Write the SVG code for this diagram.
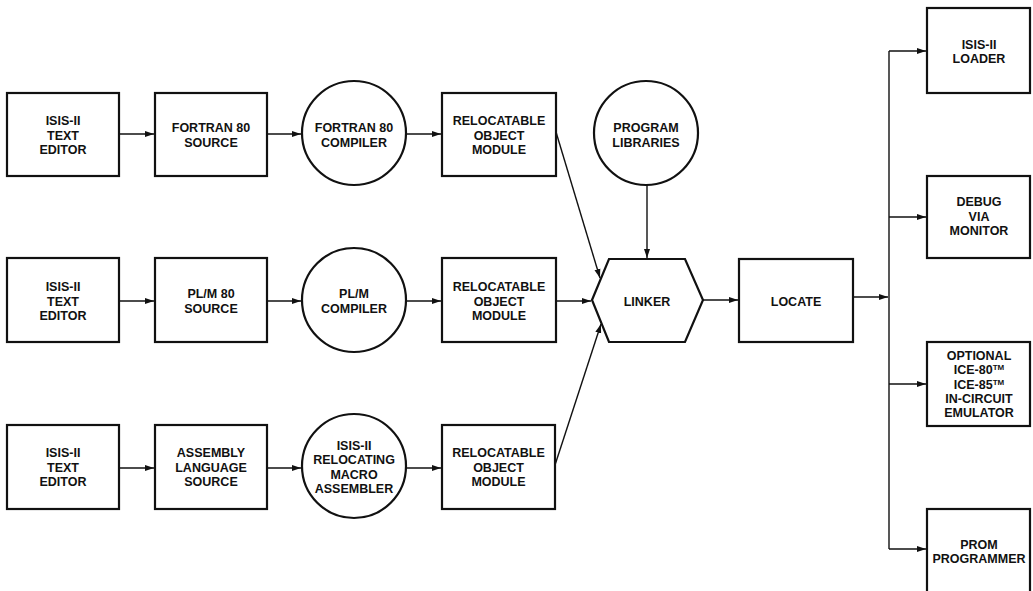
<svg xmlns="http://www.w3.org/2000/svg" width="1033" height="591" viewBox="0 0 1033 591">
<defs>
<marker id="ah" markerUnits="userSpaceOnUse" markerWidth="10" markerHeight="8" refX="9" refY="4" orient="auto">
<path d="M0,1 L9,4 L0,7 Z" fill="#111"/>
</marker>
<style>
.box{fill:#fff;stroke:#111;stroke-width:2.2}
.t{font-family:"Liberation Sans",Arial,sans-serif;font-weight:bold;font-size:12.5px;fill:#111;text-anchor:middle}
.c{fill:none;stroke:#111;stroke-width:1.4;marker-end:url(#ah)}
.bus{fill:none;stroke:#111;stroke-width:1.4}
</style>
</defs>
<rect width="1033" height="591" fill="#fff"/>

<g id="connectors">
<line class="c" x1="119" y1="134" x2="154" y2="134"/>
<line class="c" x1="267" y1="134" x2="301" y2="134"/>
<line class="c" x1="406" y1="134" x2="441" y2="134"/>
<line class="c" x1="556" y1="132" x2="600" y2="278"/>
<line class="c" x1="119" y1="301" x2="154" y2="301"/>
<line class="c" x1="267" y1="301" x2="301" y2="301"/>
<line class="c" x1="406" y1="301" x2="441" y2="301"/>
<line class="c" x1="556" y1="301" x2="591" y2="301"/>
<line class="c" x1="119" y1="468" x2="154" y2="468"/>
<line class="c" x1="267" y1="468" x2="301" y2="468"/>
<line class="c" x1="406" y1="468" x2="441" y2="468"/>
<line class="c" x1="555" y1="465" x2="601" y2="324"/>
<line class="c" x1="647" y1="185" x2="647" y2="258"/>
<line class="c" x1="703" y1="300" x2="738" y2="300"/>
<line class="c" x1="853" y1="297" x2="888" y2="297"/>
<line class="bus" x1="889" y1="51" x2="889" y2="549"/>
<line class="c" x1="889" y1="51" x2="926" y2="51"/>
<line class="c" x1="889" y1="217" x2="926" y2="217"/>
<line class="c" x1="889" y1="384" x2="926" y2="384"/>
<line class="c" x1="889" y1="549" x2="926" y2="549"/>
</g>

<g id="editor1"><rect class="box" x="7" y="93" width="112" height="83"/>
<text class="t"><tspan x="63" y="125.3">ISIS-II</tspan><tspan x="63" y="139.5">TEXT</tspan><tspan x="63" y="153.7">EDITOR</tspan></text></g>
<g id="fortran-source"><rect class="box" x="155" y="93" width="112" height="83"/>
<text class="t"><tspan x="211" y="132.4">FORTRAN 80</tspan><tspan x="211" y="146.6">SOURCE</tspan></text></g>
<g id="fortran-compiler"><circle class="box" cx="354" cy="133" r="52"/>
<text class="t"><tspan x="354" y="132.4">FORTRAN 80</tspan><tspan x="354" y="146.6">COMPILER</tspan></text></g>
<g id="rom1"><rect class="box" x="442" y="93" width="114" height="83"/>
<text class="t"><tspan x="499" y="125.3">RELOCATABLE</tspan><tspan x="499" y="139.5">OBJECT</tspan><tspan x="499" y="153.7">MODULE</tspan></text></g>

<g id="editor2"><rect class="box" x="7" y="258" width="112" height="84"/>
<text class="t"><tspan x="63" y="291.3">ISIS-II</tspan><tspan x="63" y="305.5">TEXT</tspan><tspan x="63" y="319.7">EDITOR</tspan></text></g>
<g id="plm-source"><rect class="box" x="155" y="258" width="112" height="84"/>
<text class="t"><tspan x="211" y="298.4">PL/M 80</tspan><tspan x="211" y="312.6">SOURCE</tspan></text></g>
<g id="plm-compiler"><circle class="box" cx="354" cy="300" r="52"/>
<text class="t"><tspan x="354" y="298.4">PL/M</tspan><tspan x="354" y="312.6">COMPILER</tspan></text></g>
<g id="rom2"><rect class="box" x="442" y="258" width="114" height="84"/>
<text class="t"><tspan x="499" y="291.3">RELOCATABLE</tspan><tspan x="499" y="305.5">OBJECT</tspan><tspan x="499" y="319.7">MODULE</tspan></text></g>

<g id="editor3"><rect class="box" x="7" y="425" width="112" height="84"/>
<text class="t"><tspan x="63" y="457.3">ISIS-II</tspan><tspan x="63" y="471.5">TEXT</tspan><tspan x="63" y="485.7">EDITOR</tspan></text></g>
<g id="asm-source"><rect class="box" x="155" y="425" width="112" height="84"/>
<text class="t"><tspan x="211" y="457.3">ASSEMBLY</tspan><tspan x="211" y="471.5">LANGUAGE</tspan><tspan x="211" y="485.7">SOURCE</tspan></text></g>
<g id="assembler"><circle class="box" cx="354" cy="466" r="52"/>
<text class="t"><tspan x="354" y="450.2">ISIS-II</tspan><tspan x="354" y="464.4">RELOCATING</tspan><tspan x="354" y="478.6">MACRO</tspan><tspan x="354" y="492.8">ASSEMBLER</tspan></text></g>
<g id="rom3"><rect class="box" x="442" y="425" width="113" height="84"/>
<text class="t"><tspan x="498.5" y="457.3">RELOCATABLE</tspan><tspan x="498.5" y="471.5">OBJECT</tspan><tspan x="498.5" y="485.7">MODULE</tspan></text></g>

<g id="libraries"><circle class="box" cx="646" cy="133" r="52"/>
<text class="t"><tspan x="646" y="132.4">PROGRAM</tspan><tspan x="646" y="146.6">LIBRARIES</tspan></text></g>
<g id="linker"><polygon class="box" points="592,300 609,259 685,259 703,300 685,342 609,342"/>
<text class="t" x="647" y="305.5">LINKER</text></g>
<g id="locate"><rect class="box" x="739" y="259" width="114" height="83"/>
<text class="t" x="796" y="305.5">LOCATE</text></g>

<g id="loader"><rect class="box" x="927" y="8" width="103" height="85"/>
<text class="t"><tspan x="979" y="48.9">ISIS-II</tspan><tspan x="979" y="63.1">LOADER</tspan></text></g>
<g id="debug"><rect class="box" x="927" y="176" width="103" height="82"/>
<text class="t"><tspan x="979" y="206.3">DEBUG</tspan><tspan x="979" y="220.5">VIA</tspan><tspan x="979" y="234.7">MONITOR</tspan></text></g>
<g id="ice"><rect class="box" x="927" y="342" width="103" height="84"/>
<text class="t"><tspan x="979" y="360.1">OPTIONAL</tspan><tspan x="979" y="374.3">ICE-80<tspan font-size="8" dy="-4">TM</tspan></tspan><tspan x="979" y="388.5">ICE-85<tspan font-size="8" dy="-4">TM</tspan></tspan><tspan x="979" y="402.7">IN-CIRCUIT</tspan><tspan x="979" y="416.9">EMULATOR</tspan></text></g>
<g id="prom"><rect class="box" x="927" y="509" width="103" height="84"/>
<text class="t"><tspan x="979" y="548.9">PROM</tspan><tspan x="979" y="563.1">PROGRAMMER</tspan></text></g>
</svg>
